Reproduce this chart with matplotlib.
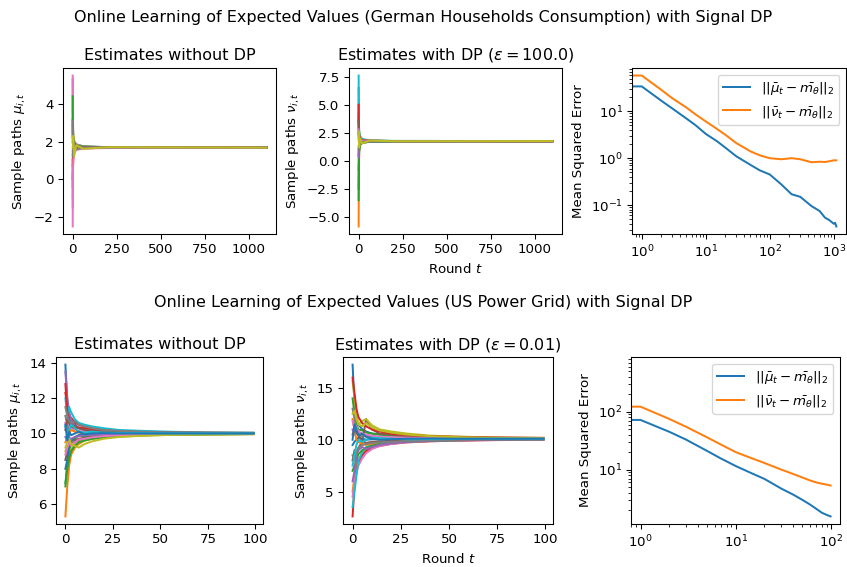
import numpy as np
import matplotlib
matplotlib.use("Agg")
import matplotlib.pyplot as plt

# ---- German households (top row) ----
de_rounds = [0, 1, 3, 8, 20, 60, 200, 1099]
de_mu_paths = [
    [3.2, 2.2, 1.9, 1.8, 1.74, 1.71, 1.69, 1.68],
    [-1.5, 0.4, 1.2, 1.5, 1.6, 1.65, 1.67, 1.68],
    [5.3, 3.0, 2.3, 2.0, 1.85, 1.75, 1.70, 1.69],
    [0.0, 0.9, 1.4, 1.55, 1.62, 1.66, 1.67, 1.68],
    [-0.4, 0.8, 1.3, 1.52, 1.61, 1.65, 1.67, 1.68],
    [2.6, 2.1, 1.9, 1.78, 1.72, 1.70, 1.69, 1.68],
    [5.5, 3.5, 2.4, 2.05, 1.85, 1.74, 1.70, 1.69],
    [1.0, 1.3, 1.5, 1.6, 1.65, 1.67, 1.68, 1.68],
    [3.9, 2.6, 2.1, 1.9, 1.78, 1.72, 1.69, 1.68],
    [1.5, 1.6, 1.65, 1.7, 1.7, 1.69, 1.68, 1.68],
    [2.0, 1.9, 1.8, 1.75, 1.72, 1.70, 1.69, 1.68],
    [-1.0, 0.5, 1.1, 1.45, 1.58, 1.64, 1.67, 1.68],
    [4.4, 2.8, 2.2, 1.95, 1.8, 1.73, 1.70, 1.69],
    [0.7, 1.1, 1.4, 1.55, 1.63, 1.66, 1.67, 1.68],
    [2.9, 2.2, 1.95, 1.8, 1.73, 1.70, 1.69, 1.68],
    [1.3, 1.4, 1.55, 1.62, 1.66, 1.68, 1.68, 1.68],
    [-2.5, 0.2, 1.0, 1.4, 1.56, 1.63, 1.66, 1.67],
    [3.1, 2.3, 1.2, 1.45, 1.6, 1.66, 1.68, 1.68],
    [1.7, 1.75, 2.3, 1.2, 1.8, 1.62, 1.70, 1.68],
]
de_nu_paths = [
    [2.5, 2.0, 1.9, 1.85, 1.8, 1.77, 1.76, 1.75],
    [-5.85, -1.5, 0.8, 1.4, 1.6, 1.7, 1.73, 1.75],
    [6.5, 3.5, 2.5, 2.1, 1.9, 1.8, 1.77, 1.76],
    [0.5, 1.0, 1.4, 1.6, 1.68, 1.72, 1.74, 1.75],
    [3.8, 2.6, 2.1, 1.9, 1.82, 1.78, 1.76, 1.75],
    [4.2, 2.9, 2.2, 1.95, 1.84, 1.78, 1.76, 1.75],
    [2.6, 2.2, 1.95, 1.85, 1.8, 1.77, 1.76, 1.75],
    [-0.8, 0.6, 1.3, 1.55, 1.66, 1.71, 1.74, 1.75],
    [1.2, 1.4, 1.6, 1.7, 1.72, 1.74, 1.75, 1.75],
    [7.6, 4.0, 2.6, 2.2, 1.95, 1.82, 1.77, 1.76],
    [-2.5, -0.2, 1.0, 1.45, 1.62, 1.7, 1.73, 1.75],
    [4.8, 3.2, 2.3, 2.0, 1.86, 1.79, 1.76, 1.75],
    [-3.5, -0.6, 0.9, 1.42, 1.6, 1.69, 1.73, 1.75],
    [5.0, 3.0, 2.2, 1.95, 1.84, 1.78, 1.76, 1.75],
    [0.3, 0.9, 1.35, 1.58, 1.67, 1.72, 1.74, 1.75],
    [3.6, 2.5, 2.05, 1.88, 1.81, 1.77, 1.76, 1.75],
    [2.8, 2.3, 1.98, 1.86, 1.8, 1.77, 1.76, 1.75],
    [1.0, 1.3, 1.5, 1.64, 1.7, 1.73, 1.75, 1.75],
    [1.8, 2.6, 1.2, 2.0, 1.55, 1.8, 1.74, 1.76],
]
de_err_rounds = [0, 1, 2, 3, 5, 7, 10, 15, 20, 30, 50, 70, 100, 150, 220, 300,
                 450, 600, 730, 850, 1000, 1050, 1099]
de_err_mu = [34, 34, 17, 11.5, 7.0, 5.0, 3.3, 2.3, 1.7, 1.1, 0.72, 0.55, 0.45,
             0.28, 0.17, 0.15, 0.095, 0.075, 0.054, 0.048, 0.040, 0.042, 0.035]
de_err_nu = [58, 58, 29, 19, 12, 8.5, 6.1, 4.2, 3.2, 2.1, 1.4, 1.15, 1.0,
             0.95, 1.0, 0.95, 0.82, 0.84, 0.83, 0.86, 0.9, 0.9, 0.9]

# ---- US power grid (bottom row) ----
us_rounds = [0, 1, 2, 3, 5, 7, 10, 14, 20, 28, 40, 55, 75, 99]
us_mu_paths = [
    [13.9, 11.8, 11.0, 10.6, 10.5, 10.3, 10.2, 10.15, 10.1, 10.05, 10.05, 10.03, 10.02, 10.02],
    [5.3, 7.0, 8.2, 8.8, 9.2, 9.4, 9.6, 9.7, 9.8, 9.85, 9.9, 9.93, 9.95, 9.96],
    [7.0, 8.5, 9.0, 9.5, 9.7, 9.9, 9.8, 9.85, 9.9, 9.95, 9.97, 9.98, 9.99, 10.0],
    [12.3, 11.5, 10.8, 10.9, 10.6, 10.5, 10.4, 10.3, 10.2, 10.1, 10.08, 10.05, 10.03, 10.02],
    [13.5, 12.0, 11.2, 10.8, 10.4, 10.3, 10.25, 10.2, 10.15, 10.1, 10.06, 10.04, 10.03, 10.02],
    [8.5, 9.0, 9.3, 9.5, 9.6, 9.7, 9.75, 9.8, 9.85, 9.88, 9.92, 9.95, 9.97, 9.98],
    [10.6, 10.2, 10.5, 10.3, 10.2, 10.15, 10.1, 10.1, 10.05, 10.05, 10.03, 10.02, 10.01, 10.0],
    [11.0, 10.5, 9.8, 9.6, 9.5, 9.6, 9.7, 9.75, 9.82, 9.88, 9.92, 9.94, 9.96, 9.97],
    [9.0, 9.3, 9.0, 9.1, 9.4, 9.5, 9.6, 9.7, 9.75, 9.82, 9.88, 9.92, 9.95, 9.97],
    [12.0, 11.0, 11.5, 11.2, 10.8, 10.6, 10.5, 10.4, 10.3, 10.2, 10.15, 10.1, 10.06, 10.04],
    [8.0, 8.5, 9.2, 9.6, 9.8, 9.9, 9.95, 9.97, 9.98, 10.0, 10.0, 10.0, 10.0, 10.0],
    [9.5, 9.8, 10.0, 10.2, 10.1, 10.05, 10.0, 10.02, 10.0, 10.0, 10.01, 10.0, 10.0, 10.0],
    [7.2, 8.0, 8.6, 9.0, 9.3, 9.5, 9.6, 9.7, 9.78, 9.85, 9.9, 9.93, 9.95, 9.97],
    [12.8, 11.2, 10.6, 10.4, 10.3, 10.35, 10.3, 10.25, 10.18, 10.12, 10.08, 10.05, 10.04, 10.03],
    [9.8, 9.6, 9.4, 9.7, 9.8, 9.85, 9.9, 9.92, 9.95, 9.97, 9.98, 9.99, 10.0, 10.0],
    [10.2, 10.8, 10.6, 10.5, 10.4, 10.3, 10.2, 10.15, 10.1, 10.08, 10.05, 10.03, 10.02, 10.02],
    [8.8, 9.2, 9.5, 9.3, 9.5, 9.65, 9.7, 9.78, 9.85, 9.9, 9.93, 9.95, 9.97, 9.98],
    [11.5, 11.0, 10.7, 10.6, 10.7, 10.5, 10.4, 10.3, 10.2, 10.15, 10.1, 10.07, 10.05, 10.04],
    [9.2, 9.5, 9.7, 9.4, 9.3, 9.2, 9.4, 9.55, 9.7, 9.8, 9.87, 9.92, 9.95, 9.96],
    [10.4, 10.0, 10.2, 10.5, 10.3, 10.1, 10.05, 10.1, 10.05, 10.03, 10.02, 10.01, 10.01, 10.0],
    [10.5, 9.6, 10.1, 9.9, 10.0, 10.1, 9.95, 10.0, 10.02, 10.0, 10.0, 10.0, 10.0, 10.0],
]
us_nu_paths = [
    [17.25, 13.5, 12.0, 11.5, 11.0, 10.8, 10.6, 10.5, 10.4, 10.3, 10.25, 10.2, 10.15, 10.12],
    [5.0, 6.5, 7.5, 8.0, 8.6, 9.0, 9.3, 9.5, 9.65, 9.78, 9.88, 9.95, 10.0, 10.03],
    [14.0, 12.5, 11.5, 11.0, 10.9, 10.7, 10.6, 10.5, 10.4, 10.3, 10.25, 10.2, 10.17, 10.14],
    [2.6, 5.5, 7.0, 7.8, 8.5, 8.9, 9.2, 9.4, 9.6, 9.75, 9.85, 9.92, 9.97, 10.0],
    [11.0, 10.5, 10.8, 10.6, 10.4, 10.3, 10.25, 10.2, 10.18, 10.15, 10.13, 10.12, 10.11, 10.1],
    [8.0, 9.0, 8.5, 9.2, 9.8, 12.0, 11.0, 10.6, 10.5, 10.35, 10.25, 10.2, 10.15, 10.12],
    [4.5, 6.0, 6.8, 7.5, 8.2, 8.7, 9.1, 9.4, 9.6, 9.75, 9.86, 9.93, 9.98, 10.02],
    [13.0, 12.0, 11.0, 10.5, 10.3, 10.4, 10.2, 10.1, 10.1, 10.08, 10.08, 10.08, 10.09, 10.1],
    [15.7, 14.0, 12.5, 11.5, 11.8, 12.0, 11.4, 11.0, 10.8, 10.6, 10.4, 10.3, 10.22, 10.18],
    [3.5, 5.0, 6.5, 8.0, 8.8, 9.3, 9.5, 9.65, 9.75, 9.85, 9.92, 9.98, 10.03, 10.05],
    [9.5, 9.8, 10.0, 10.2, 10.1, 10.0, 10.05, 10.1, 10.08, 10.1, 10.1, 10.1, 10.1, 10.1],
    [12.0, 11.0, 10.0, 9.8, 9.6, 9.5, 9.6, 9.7, 9.8, 9.88, 9.95, 10.0, 10.03, 10.06],
    [7.0, 7.5, 8.0, 8.6, 9.0, 9.2, 9.4, 9.6, 9.7, 9.8, 9.88, 9.95, 10.0, 10.04],
    [16.0, 14.5, 13.0, 12.2, 11.6, 11.3, 11.0, 10.8, 10.6, 10.45, 10.35, 10.28, 10.22, 10.18],
    [6.0, 7.0, 8.5, 9.0, 9.3, 9.1, 9.3, 9.5, 9.65, 9.8, 9.9, 9.96, 10.0, 10.04],
    [10.5, 11.0, 10.7, 10.4, 9.9, 9.7, 9.8, 9.85, 9.9, 9.95, 10.0, 10.04, 10.06, 10.08],
    [11.8, 11.0, 11.3, 10.8, 10.6, 10.5, 10.4, 10.3, 10.25, 10.2, 10.16, 10.13, 10.12, 10.11],
    [8.5, 8.0, 8.8, 9.2, 9.5, 9.6, 9.7, 9.75, 9.8, 9.88, 9.95, 10.0, 10.04, 10.07],
    [12.5, 12.8, 12.0, 11.5, 11.3, 11.6, 11.2, 10.9, 10.7, 10.5, 10.35, 10.25, 10.18, 10.14],
    [7.5, 8.5, 9.5, 10.0, 9.8, 10.0, 10.2, 10.15, 10.1, 10.05, 10.06, 10.08, 10.1, 10.1],
    [10.0, 11.5, 11.0, 10.4, 10.6, 10.3, 10.1, 10.0, 10.05, 10.1, 10.12, 10.1, 10.1, 10.1],
]
us_err_rounds = [0, 1, 2, 3, 5, 7, 10, 15, 20, 30, 40, 50, 60, 70, 80, 90, 99]
us_err_mu = [400, 72, 45, 33, 21, 15.5, 11.5, 8.5, 6.9, 4.7, 3.7, 3.0, 2.5, 2.1, 1.8, 1.65, 1.55]
us_err_nu = [650, 122, 75, 55, 36, 27, 20, 15.5, 13, 10, 8.4, 7.3, 6.5, 6.0, 5.7, 5.5, 5.3]

mu_label = r"$||\bar{\mu}_t - \bar{m_\theta}||_2$"
nu_label = r"$||\bar{\nu}_t - \bar{m_\theta}||_2$"

DPI = 96
fig = plt.figure(figsize=(847 / DPI, 567 / DPI), dpi=DPI)

fig.text(0.5, 0.97, "Online Learning of Expected Values (German Households Consumption) with Signal DP",
         ha="center", va="center", fontsize=12)
fig.text(0.5, 0.466, "Online Learning of Expected Values (US Power Grid) with Signal DP",
         ha="center", va="center", fontsize=12)

rows = [
    dict(rounds=de_rounds, mu=de_mu_paths, nu=de_nu_paths, eps="100.0",
         er=de_err_rounds, emu=de_err_mu, enu=de_err_nu,
         pos=[[0.0744, 0.5873, 0.2515, 0.2928], [0.412, 0.5873, 0.2515, 0.2928],
              [0.7462, 0.5873, 0.2527, 0.2928]]),
    dict(rounds=us_rounds, mu=us_mu_paths, nu=us_nu_paths, eps="0.01",
         er=us_err_rounds, emu=us_err_mu, enu=us_err_nu,
         pos=[[0.0661, 0.0758, 0.2444, 0.2945], [0.405, 0.0758, 0.2479, 0.2945],
              [0.745, 0.0758, 0.2468, 0.2945]]),
]

for row in rows:
    ax1 = fig.add_axes(row["pos"][0])
    for p in row["mu"]:
        ax1.plot(row["rounds"], p)
    ax1.set_title("Estimates without DP")
    ax1.set_ylabel(r"Sample paths $\mu_{i,t}$")

    ax2 = fig.add_axes(row["pos"][1])
    for p in row["nu"]:
        ax2.plot(row["rounds"], p)
    ax2.set_title(r"Estimates with DP ($\varepsilon = %s$)" % row["eps"])
    ax2.set_ylabel(r"Sample paths $\nu_{i,t}$")
    ax2.set_xlabel(r"Round $t$")

    ax3 = fig.add_axes(row["pos"][2])
    ax3.plot(row["er"], row["emu"], label=mu_label)
    ax3.plot(row["er"], row["enu"], label=nu_label)
    ax3.set_xscale("log")
    ax3.set_yscale("log")
    ax3.set_ylabel("Mean Squared Error")
    ax3.legend(loc="upper right")

fig.savefig("out.png", dpi=DPI)
